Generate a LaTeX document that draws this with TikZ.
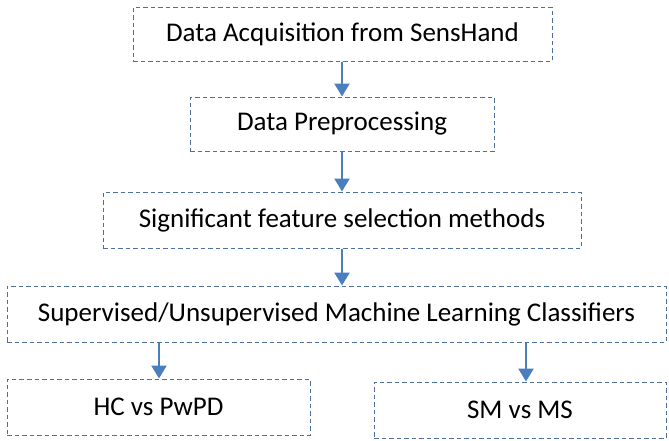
\documentclass[tikz,border=0pt]{standalone}
\usepackage{fontspec}
\setmainfont{Carlito}
\usetikzlibrary{arrows.meta}
\definecolor{boxline}{RGB}{79,110,160}
\definecolor{arrowc}{RGB}{74,126,190}
\tikzset{
  stepbox/.style={draw=boxline, dash pattern=on 4.5pt off 3pt, line width=1pt, inner sep=0pt, font=\fontsize{27}{32}\selectfont, text=black},
  flow/.style={draw=arrowc, line width=2.4pt, -{Triangle[width=15pt,length=13pt]}}
}
\begin{document}
\begin{tikzpicture}[x=1pt,y=-1pt]
\useasboundingbox (0,0) rectangle (669,440);
\node[stepbox, minimum width=419pt, minimum height=54pt] (acq) at (342.5,34) {Data Acquisition from SensHand};
\node[stepbox, minimum width=304pt, minimum height=54pt] (pre) at (342,124) {Data Preprocessing};
\node[stepbox, minimum width=478pt, minimum height=56pt] (fs) at (342,220) {Significant feature selection methods};
\node[stepbox, minimum width=659pt, minimum height=56pt] (ml) at (336.5,314) {Supervised/Unsupervised Machine Learning Classifiers};
\node[stepbox, minimum width=303pt, minimum height=56pt] (hc) at (158.5,407) {HC vs PwPD};
\node[stepbox, minimum width=292pt, minimum height=56pt] (sm) at (520,410) {SM vs MS};
\draw[flow] (acq.south -| 342,0) -- (pre.north -| 342,0);
\draw[flow] (pre.south -| 342,0) -- (fs.north -| 342,0);
\draw[flow] (fs.south -| 342,0) -- (ml.north -| 342,0);
\draw[flow] (ml.south -| 159,0) -- (hc.north -| 159,0);
\draw[flow] (ml.south -| 526,0) -- (sm.north -| 526,0);
\end{tikzpicture}
\end{document}
